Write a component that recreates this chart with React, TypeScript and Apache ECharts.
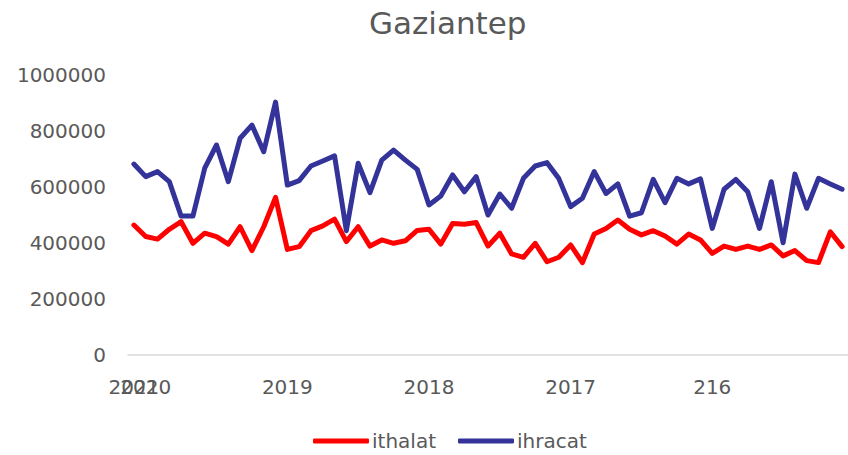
import React, { useEffect, useRef } from "react";
import * as echarts from "echarts";

// Year tick labels (as shown in the original, including its "216" typo) and the category index where each starts
const yearLabels = ["2021", "2020", "2019", "2018", "2017", "216"];
const yearStartIdx = [0, 1, 13, 25, 37, 49];

// Monthly categories, newest first: Jan 2021, Dec 2020, ... (61 months visible)
const categories: string[] = [];
{
  let y = 2021;
  let m = 1;
  for (let i = 0; i < 61; i++) {
    categories.push(`${y}-${String(m).padStart(2, "0")}`);
    m -= 1;
    if (m === 0) {
      m = 12;
      y -= 1;
    }
  }
}

const ithalat = [
  464000, 423000, 414000, 449000, 476000, 399000, 435000, 423000, 396000, 458000,
  373000, 458000, 563000, 377000, 387000, 444000, 461000, 485000, 405000, 458000,
  389000, 411000, 399000, 408000, 445000, 449000, 396000, 470000, 467000, 473000,
  389000, 435000, 361000, 349000, 399000, 333000, 349000, 393000, 330000, 432000,
  452000, 482000, 449000, 429000, 444000, 425000, 396000, 432000, 411000, 363000,
  389000, 377000, 389000, 377000, 393000, 354000, 373000, 337000, 330000, 440000,
  387000,
];

const ihracat = [
  682000, 637000, 655000, 619000, 496000, 496000, 667000, 750000, 619000, 774000,
  821000, 726000, 903000, 607000, 623000, 675000, 693000, 711000, 444000, 685000,
  580000, 696000, 732000, 696000, 663000, 536000, 568000, 643000, 583000, 637000,
  500000, 575000, 524000, 631000, 675000, 687000, 630000, 530000, 560000, 655000,
  577000, 611000, 496000, 508000, 627000, 544000, 631000, 611000, 629000, 452000,
  592000, 627000, 583000, 452000, 619000, 401000, 646000, 524000, 631000, 611000,
  592000,
];

const FONT = "DejaVu Sans";
const GREY = "#595959";

// Labels alternate between two overlaid category axes so the overlapping
// "2021"/"2020" pair is not auto-hidden by the library.
const axisA = yearStartIdx.filter((_, k) => k !== 1);
const axisB = [yearStartIdx[1]];

function makeXAxis(indices: number[], showLine: boolean) {
  return {
    type: "category",
    data: categories,
    boundaryGap: true,
    position: "bottom",
    axisLine: { show: showLine, lineStyle: { color: "#d9d9d9", width: 1.5 } },
    axisTick: { show: false },
    splitLine: { show: false },
    axisLabel: {
      interval: (i: number) => indices.includes(i),
      formatter: (_v: string, i: number) => {
        const k = yearStartIdx.indexOf(i);
        return k >= 0 ? yearLabels[k] : "";
      },
      hideOverlap: false,
      showMinLabel: true,
      fontFamily: FONT,
      fontSize: 20,
      color: GREY,
      margin: 22,
    },
  };
}

export default function App() {
  const ref = useRef<HTMLDivElement>(null);

  useEffect(() => {
    if (!ref.current) return;
    const chart = echarts.init(ref.current, undefined, { renderer: "svg" });
    chart.setOption({
      animation: false,
      backgroundColor: "#ffffff",
      title: {
        text: "Gaziantep",
        left: 364,
        top: 2,
        textStyle: { fontFamily: FONT, fontSize: 31, fontWeight: "normal", color: GREY },
      },
      legend: {
        data: ["ithalat", "ihracat"],
        left: 308,
        top: 426,
        icon: "roundRect",
        itemWidth: 56,
        itemHeight: 5,
        itemGap: 22,
        textStyle: { fontFamily: FONT, fontSize: 20, color: GREY, padding: [0, 0, 0, -2] },
      },
      grid: { left: 128, top: 75, height: 280, width: 725, containLabel: false },
      xAxis: [makeXAxis(axisA, true), makeXAxis(axisB, false)],
      yAxis: {
        type: "value",
        min: 0,
        max: 1000000,
        interval: 200000,
        axisLine: { show: false },
        axisTick: { show: false },
        splitLine: { show: false },
        axisLabel: {
          formatter: (v: number) => String(v),
          fontFamily: FONT,
          fontSize: 20,
          color: GREY,
          margin: 22,
        },
      },
      series: [
        {
          name: "ithalat",
          type: "line",
          xAxisIndex: 0,
          data: ithalat,
          symbol: "none",
          color: "#ff0000",
          lineStyle: { width: 5, color: "#ff0000", cap: "round", join: "round" },
        },
        {
          name: "ihracat",
          type: "line",
          xAxisIndex: 0,
          data: ihracat,
          symbol: "none",
          color: "#333399",
          lineStyle: { width: 5, color: "#333399", cap: "round", join: "round" },
        },
      ],
    });
    return () => chart.dispose();
  }, []);

  return (
    <div
      ref={ref}
      style={{ position: "fixed", left: 0, top: 0, width: 848, height: 455, background: "#fff" }}
    />
  );
}
